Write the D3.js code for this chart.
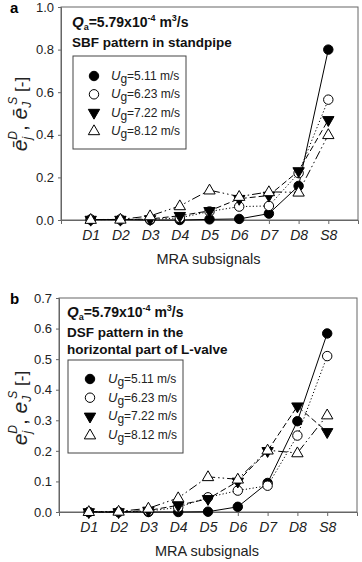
<!DOCTYPE html>
<html>
<head>
<meta charset="utf-8">
<script src="https://cdn.jsdelivr.net/npm/d3@7"></script>
<style>
  body { margin: 0; background: #fff; }
  svg { display: block; font-family: 'Liberation Sans', Arial, sans-serif; }
</style>
</head>
<body>
<div id="chart"></div>
<script>
const categories = ['D1', 'D2', 'D3', 'D4', 'D5', 'D6', 'D7', 'D8', 'S8']
const seriesNames = ['5.11', '6.23', '7.22', '8.12']

// panel a: SBF pattern in standpipe
const sbf511 = [0.002, 0.002, 0.0, 0.0, 0.003, 0.005, 0.03, 0.16, 0.80]
const sbf623 = [0.002, 0.002, 0.003, 0.01, 0.04, 0.063, 0.066, 0.22, 0.565]
const sbf722 = [0.002, 0.002, 0.005, 0.02, 0.043, 0.10, 0.115, 0.23, 0.47]
const sbf812 = [0.002, 0.003, 0.019, 0.066, 0.14, 0.11, 0.132, 0.13, 0.40]
const ticksA = [0, 0.2, 0.4, 0.6, 0.8, 1.0]

// panel b: DSF pattern in the horizontal part of L-valve
const dsf511 = [0.0, 0.0, 0.0, 0.0, 0.001, 0.017, 0.095, 0.297, 0.584]
const dsf623 = [0.0, 0.0, 0.003, 0.015, 0.048, 0.07, 0.086, 0.25, 0.51]
const dsf722 = [0.0, 0.0, 0.005, 0.022, 0.043, 0.10, 0.20, 0.346, 0.262]
const dsf812 = [0.001, 0.002, 0.012, 0.046, 0.115, 0.107, 0.202, 0.193, 0.317]
const ticksB = [0, 0.1, 0.2, 0.3, 0.4, 0.5, 0.6, 0.7]

const styles = [
  { sym: 'circle', fill: '#000', dash: null },
  { sym: 'circle', fill: '#fff', dash: '1.2,2.2' },
  { sym: 'down', fill: '#000', dash: '6,3' },
  { sym: 'up', fill: '#fff', dash: '9,3,1.5,3,1.5,3' },
]

const W = 362, H = 562
const svg = d3.select('#chart').append('svg').attr('width', W).attr('height', H)

function symbolPath(sym) {
  if (sym === 'circle') return d3.symbol(d3.symbolCircle, 70)()
  return d3.symbol(d3.symbolTriangle, 56)()
}

function drawSymbol(g, st, x, y) {
  const p = g.append('path')
    .attr('d', symbolPath(st.sym))
    .attr('fill', st.fill)
    .attr('stroke', '#000')
    .attr('stroke-width', 1)
  let tr = `translate(${x},${y})`
  if (st.sym === 'down') tr += ' rotate(180)'
  if (st.sym === 'up') tr += ' translate(0,0.5)'
  p.attr('transform', tr)
}

function drawPanel(cfg) {
  const x = d3.scalePoint().domain(categories).range([cfg.left, cfg.right]).padding(1)
  const y = d3.scaleLinear().domain([0, cfg.max]).range([cfg.bottom, cfg.top])
  const g = svg.append('g')

  // frame
  g.append('rect')
    .attr('x', cfg.left).attr('y', cfg.top)
    .attr('width', cfg.right - cfg.left).attr('height', cfg.bottom - cfg.top)
    .attr('fill', 'none').attr('stroke', '#666').attr('stroke-width', 1)

  const yAxis = g.append('g')
    .attr('transform', `translate(${cfg.left},0)`)
    .call(d3.axisLeft(y).tickValues(cfg.ticks).tickFormat(d3.format('.1f')).tickSize(3).tickPadding(4))
  const xAxis = g.append('g')
    .attr('transform', `translate(0,${cfg.bottom})`)
    .call(d3.axisBottom(x).tickSize(4).tickPadding(6))
  ;[yAxis, xAxis].forEach((a) => {
    a.select('.domain').attr('stroke', '#666')
    a.selectAll('.tick line').attr('stroke', '#666')
    a.selectAll('text').attr('fill', '#222').style('font-size', '13px')
      .style('font-family', "'Liberation Sans', Arial, sans-serif")
  })
  xAxis.selectAll('text').style('font-style', 'italic').style('font-size', '14px')

  g.append('text')
    .attr('x', (cfg.left + cfg.right) / 2 - 1).attr('y', cfg.bottom + 44)
    .attr('text-anchor', 'middle').attr('fill', '#222')
    .style('font-size', '14.5px').text('MRA subsignals')

  // panel letter
  g.append('text').attr('x', 10).attr('y', cfg.top + 6)
    .style('font-size', '15px').style('font-weight', 'bold').text(cfg.letter)

  // y label
  const yl = g.append('text')
    .attr('transform', `translate(${cfg.ylx},${cfg.yly}) rotate(-90)`)
    .attr('text-anchor', 'middle').attr('fill', '#222')
    .style('font-size', '21px')
  const e = cfg.bar ? 'ē' : 'e'
  yl.append('tspan').style('font-style', 'italic').text(e)
  yl.append('tspan').style('font-style', 'italic').style('font-size', '12px').attr('dy', 4).text('j')
  yl.append('tspan').style('font-style', 'italic').style('font-size', '12px').attr('dx', -3).attr('dy', -14).text('D')
  yl.append('tspan').attr('dy', 10).text(', ')
  yl.append('tspan').style('font-style', 'italic').text(e)
  yl.append('tspan').style('font-style', 'italic').style('font-size', '12px').attr('dy', 4).text('J')
  yl.append('tspan').style('font-style', 'italic').style('font-size', '12px').attr('dx', -3).attr('dy', -14).text('S')
  yl.append('tspan').attr('dy', 10).style('font-size', '17px').text(' [-]')

  // annotation
  const q = g.append('text').attr('x', cfg.annX).attr('y', cfg.annY[0])
    .style('font-size', '14px').style('font-weight', 'bold').attr('fill', '#111')
  q.append('tspan').style('font-style', 'italic').style('font-size', '15px').text('Q')
  q.append('tspan').style('font-size', '9px').attr('dy', 3).text('a')
  q.append('tspan').attr('dy', -3).text('=5.79x10')
  q.append('tspan').style('font-size', '9px').attr('dy', -6).text('-4')
  q.append('tspan').attr('dy', 6).text(' m')
  q.append('tspan').style('font-size', '9px').attr('dy', -6).text('3')
  q.append('tspan').attr('dy', 6).text('/s')
  cfg.lines.forEach((t, i) => {
    g.append('text').attr('x', cfg.annX).attr('y', cfg.annY[i + 1])
      .style('font-size', '13.5px').style('font-weight', 'bold').attr('fill', '#111').text(t)
  })

  // legend
  const lg = cfg.legend
  g.append('rect').attr('x', lg.x).attr('y', lg.y).attr('width', lg.w).attr('height', lg.h)
    .attr('fill', '#fff').attr('stroke', '#444').attr('stroke-width', 1)
  seriesNames.forEach((name, i) => {
    const ry = lg.y + lg.first + i * lg.step
    drawSymbol(g, styles[i], lg.x + lg.symDx, ry)
    const t = g.append('text').attr('x', lg.x + lg.txtDx).attr('y', ry + 4)
      .style('font-size', '12px').attr('fill', '#222')
    t.append('tspan').style('font-style', 'italic').style('font-size', '13px').text('U')
    t.append('tspan').attr('dy', 3).text('g')
    t.append('tspan').attr('dy', -3).text(`=${name} m/s`)
  })

  // series
  const line = d3.line().x((d, i) => x(categories[i])).y((d) => y(d))
  cfg.series.forEach((vals, si) => {
    const st = styles[si]
    g.append('path').datum(vals).attr('d', line)
      .attr('fill', 'none').attr('stroke', '#000').attr('stroke-width', 1)
      .attr('stroke-dasharray', st.dash)
  })
  cfg.series.forEach((vals, si) => {
    vals.forEach((v, i) => drawSymbol(g, styles[si], x(categories[i]), y(v)))
  })
}

drawPanel({
  letter: 'a', left: 61, right: 358, top: 7, bottom: 220, max: 1.0, ticks: ticksA,
  bar: true, ylx: 27, yly: 114,
  annX: 72, annY: [27, 47], lines: ['SBF pattern in standpipe'],
  legend: { x: 73, y: 56, w: 113, h: 93, first: 20, step: 18.3, symDx: 21, txtDx: 38 },
  series: [sbf511, sbf623, sbf722, sbf812],
})

drawPanel({
  letter: 'b', left: 59, right: 357, top: 298, bottom: 512, max: 0.7, ticks: ticksB,
  bar: false, ylx: 27, yly: 408,
  annX: 67, annY: [317, 337, 354], lines: ['DSF pattern in the', 'horizontal part of L-valve'],
  legend: { x: 68, y: 360, w: 115, h: 93, first: 19, step: 18.7, symDx: 22, txtDx: 40 },
  series: [dsf511, dsf623, dsf722, dsf812],
})
</script>
</body>
</html>
